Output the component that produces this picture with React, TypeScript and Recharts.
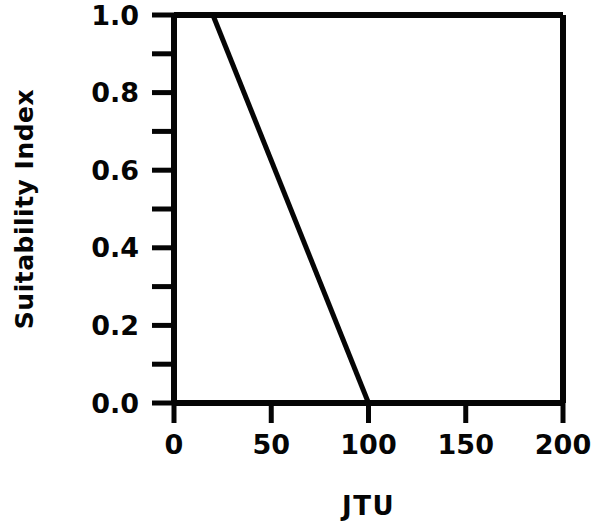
import React from "react";
import {
  LineChart,
  Line,
  XAxis,
  YAxis,
  ReferenceLine,
  Label,
} from "recharts";

// turbidity (JTU) vs suitability index
const jtu = [20, 100];
const suitability = [1.0, 0.0];

const xTicks = [0, 50, 100, 150, 200];
const yTicks = [0, 0.1, 0.2, 0.3, 0.4, 0.5, 0.6, 0.7, 0.8, 0.9, 1.0];

const data = jtu.map((x, i) => ({ x, y: suitability[i] }));

const FONT = "'DejaVu Sans', sans-serif";
const INK = "#050505";

const tickStyle = { fontFamily: FONT, fontWeight: 700, fontSize: 27, fill: INK };

export default function App() {
  return (
    <div style={{ position: "absolute", left: 0, top: 0, background: "#fff" }}>
      <LineChart
        width={608}
        height={523}
        data={data}
        margin={{ top: 15, right: 45, left: 0, bottom: 0 }}
      >
        <XAxis
          dataKey="x"
          type="number"
          domain={[0, 200]}
          ticks={xTicks}
          height={120}
          tickSize={20}
          tickMargin={12}
          axisLine={{ stroke: INK, strokeWidth: 6 }}
          tickLine={{ stroke: INK, strokeWidth: 5 }}
          tick={tickStyle}
          interval={0}
        >
          <Label
            value="JTU"
            position="insideBottom"
            offset={8}
            style={{ fontFamily: FONT, fontWeight: 700, fontSize: 26, fill: INK, letterSpacing: 1.5 }}
          />
        </XAxis>
        <YAxis
          dataKey="y"
          type="number"
          domain={[0, 1]}
          ticks={yTicks}
          width={174}
          tickSize={22}
          tickMargin={13}
          axisLine={{ stroke: INK, strokeWidth: 6 }}
          tickLine={{ stroke: INK, strokeWidth: 5 }}
          tick={tickStyle}
          interval={0}
          tickFormatter={(v: number) =>
            Math.round(v * 10) % 2 === 0 ? v.toFixed(1) : ""
          }
        >
          <Label
            value="Suitability Index"
            angle={-90}
            position="insideLeft"
            offset={24}
            style={{
              fontFamily: FONT,
              fontWeight: 700,
              fontSize: 25,
              fill: INK,
              letterSpacing: 0.5,
              textAnchor: "middle",
            }}
          />
        </YAxis>
        {/* frame top and right */}
        <ReferenceLine y={1} stroke={INK} strokeWidth={6} />
        <ReferenceLine x={200} stroke={INK} strokeWidth={6} />
        <Line
          dataKey="y"
          stroke={INK}
          strokeWidth={5}
          dot={false}
          isAnimationActive={false}
        />
      </LineChart>
    </div>
  );
}
